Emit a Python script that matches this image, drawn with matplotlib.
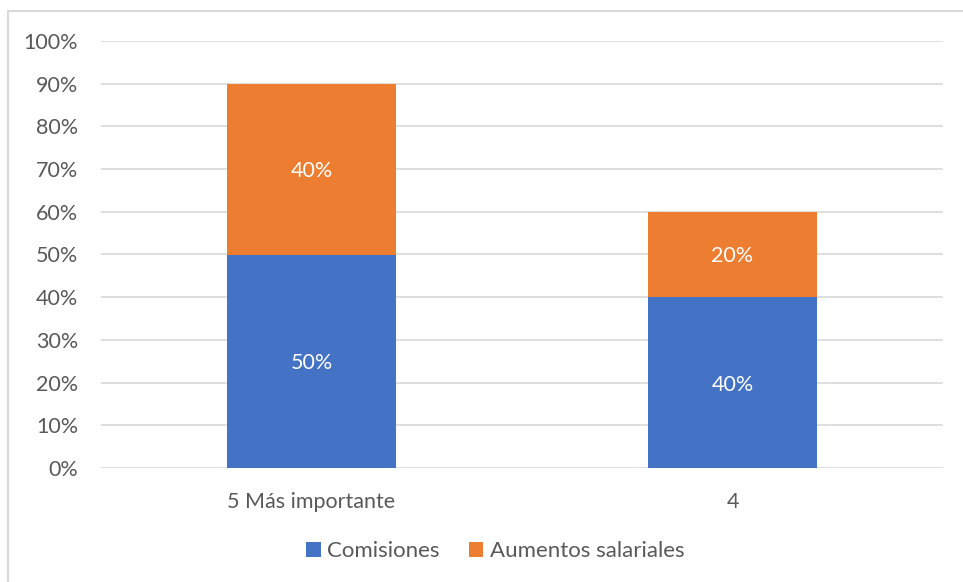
import numpy as np
import matplotlib
matplotlib.use("Agg")
import matplotlib.pyplot as plt
from matplotlib.patches import Rectangle
from matplotlib.ticker import FuncFormatter

categories = ["5 Más importante", "4"]
comisiones = [50, 40]
aumentos = [40, 20]
series_names = ["Comisiones", "Aumentos salariales"]

blue = "#4472C4"
orange = "#ED7D31"
text_gray = "#595959"
grid_gray = "#D9D9D9"
fs = 15.5

plt.rcParams["font.family"] = ["Lato", "DejaVu Sans"]

fig = plt.figure(figsize=(9.63, 5.82), dpi=100)
ax = fig.add_axes([101 / 963, 1 - 468 / 582, 842 / 963, 427 / 582])

# chart frame
fig.patches.append(Rectangle((8 / 963, -0.05), 1.1, 1 - 11 / 582 + 0.05,
                             transform=fig.transFigure, fill=False,
                             edgecolor=grid_gray, linewidth=1.5))

x = np.arange(len(categories))
width = 0.4
b1 = ax.bar(x, comisiones, width, color=blue, label=series_names[0], zorder=3)
b2 = ax.bar(x, aumentos, width, bottom=comisiones, color=orange,
            label=series_names[1], zorder=3)

for bars, vals, bottoms in [(b1, comisiones, [0, 0]), (b2, aumentos, comisiones)]:
    for rect, v, b in zip(bars, vals, bottoms):
        ax.text(rect.get_x() + rect.get_width() / 2, b + v / 2, f"{v}%",
                ha="center", va="center_baseline", color="white",
                fontsize=fs, zorder=4)

ax.set_xlim(-0.5, 1.5)
ax.set_ylim(0, 100)
ax.set_yticks(np.arange(0, 101, 10))
ax.yaxis.set_major_formatter(FuncFormatter(lambda v, p: f"{v:.0f}%"))
ax.set_xticks(x)
ax.set_xticklabels(categories)
ax.grid(axis="y", color=grid_gray, linewidth=1.2, zorder=0)
for s in ax.spines.values():
    s.set_visible(False)
ax.tick_params(axis="both", length=0, labelsize=fs, labelcolor=text_gray)
ax.tick_params(axis="y", pad=16.5)
ax.tick_params(axis="x", pad=17)

fig.legend(handles=[b1, b2], labels=series_names, loc="center",
           bbox_to_anchor=(495.5 / 963, 1 - 551 / 582), ncol=2, frameon=False,
           fontsize=16, labelcolor=text_gray, handlelength=0.65,
           handleheight=0.65, handletextpad=0.3, columnspacing=1.3)

fig.savefig("out.png", dpi=100)
